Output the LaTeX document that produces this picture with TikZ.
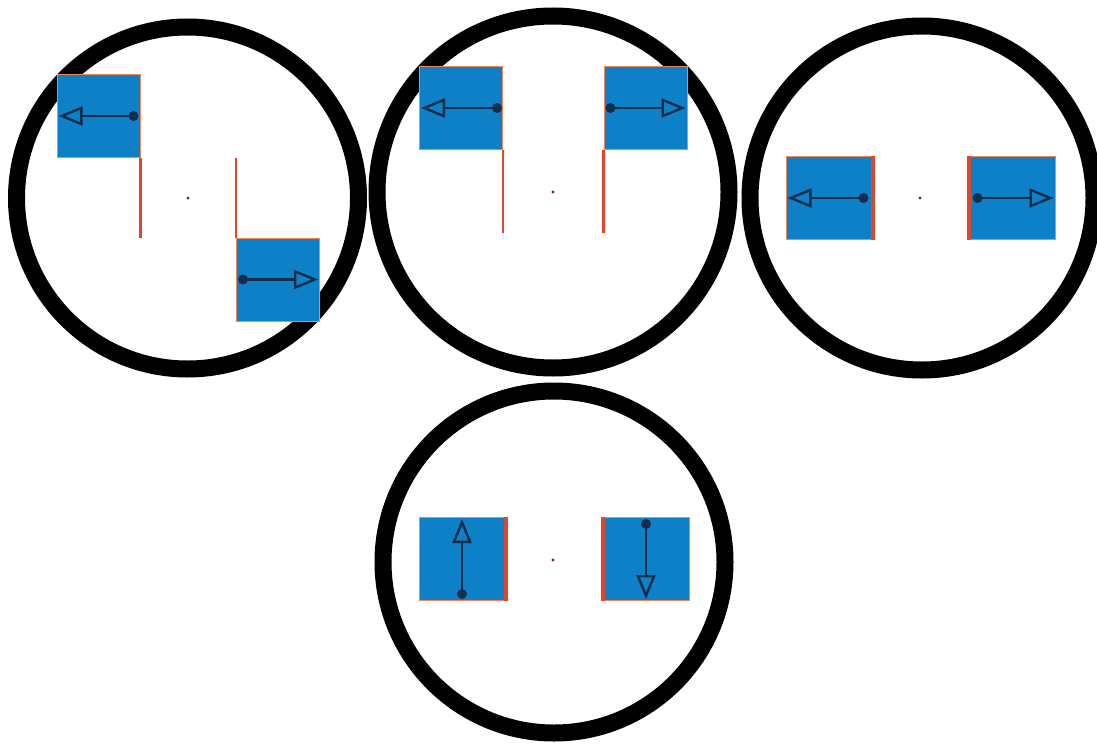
\documentclass[tikz,border=0pt]{standalone}
\usetikzlibrary{arrows.meta}
\definecolor{boxblue}{RGB}{14,128,200}
\definecolor{boxedge}{RGB}{240,135,85}
\definecolor{redline}{RGB}{222,70,45}
\definecolor{navy}{RGB}{20,45,75}
\definecolor{dotred}{RGB}{120,40,30}
\tikzset{
  ring/.style={draw=black, line width=17pt},
  box/.style={draw=boxedge, fill=boxblue, line width=1pt, inner sep=0pt, minimum width=83pt, minimum height=83pt, rectangle},
  wbox/.style={box, minimum width=86pt},
  rline/.style={draw=redline, line width=2.2pt},
  redge/.style={draw=redline, line width=4pt},
  arr/.style={draw=navy, line width=2.4pt, -{Triangle[open, length=24pt, width=19pt, line width=2.4pt]}},
  knob/.style={fill=navy},
  cdot/.style={fill=dotred}
}
\begin{document}
\begin{tikzpicture}[x=1pt, y=-1pt]
\useasboundingbox (0,0) rectangle (1097,744);
\fill[white] (0,0) rectangle (1097,744);

% ---------- circle 1 ----------
\draw[ring] (187.5,198) circle (171);
\node[box] (b1a) at (98.5,116) {};
\node[box] (b1b) at (278,279.5) {};
\draw[rline] (b1a.south east) -- (b1a.south east |- b1b.north west);
\draw[rline] (b1b.north west) -- (b1b.north west |- b1a.south east);
\coordinate (k1a) at ([xshift=-7pt]b1a.east);
\coordinate (k1b) at ([xshift=7pt]b1b.west);
\draw[arr] (k1a) -- ([xshift=2pt]b1a.west);
\fill[knob] (k1a) circle (5);
\draw[arr] (k1b) -- ([xshift=-2pt]b1b.east);
\fill[knob] (k1b) circle (5);
\coordinate (c1) at (188,198);
\fill[cdot] (c1) circle (1.6);

% ---------- circle 2 ----------
\draw[ring] (553,192) circle (176);
\node[box] (b2a) at (461,108) {};
\node[box] (b2b) at (645.5,108) {};
\coordinate (e2a) at ([yshift=-83pt]b2a.south east);
\coordinate (e2b) at ([yshift=-83pt]b2b.south west);
\draw[rline] (b2a.south east) -- (e2a);
\draw[rline] (b2b.south west) -- (e2b);
\coordinate (k2a) at ([xshift=-6pt]b2a.east);
\coordinate (k2b) at ([xshift=7pt]b2b.west);
\draw[arr] (k2a) -- ([xshift=2pt]b2a.west);
\fill[knob] (k2a) circle (5);
\draw[arr] (k2b) -- ([xshift=-2pt]b2b.east);
\fill[knob] (k2b) circle (5);
\coordinate (c2) at (553,192);
\fill[cdot] (c2) circle (1.6);

% ---------- circle 3 ----------
\draw[ring] (922,198) circle (172);
\node[wbox] (b3a) at (829,198) {};
\node[wbox] (b3b) at (1012,198) {};
\draw[redge] (b3a.north east) -- (b3a.south east);
\draw[redge] (b3b.north west) -- (b3b.south west);
\coordinate (k3a) at ([xshift=-9pt]b3a.east);
\coordinate (k3b) at ([xshift=9pt]b3b.west);
\draw[arr] (k3a) -- ([xshift=2pt]b3a.west);
\fill[knob] (k3a) circle (5);
\draw[arr] (k3b) -- ([xshift=-2pt]b3b.east);
\fill[knob] (k3b) circle (5);
\coordinate (c3) at (920,198);
\fill[cdot] (c3) circle (1.6);

% ---------- circle 4 ----------
\draw[ring] (554,562) circle (171);
\node[wbox] (b4a) at (462,559) {};
\node[wbox] (b4b) at (646,559) {};
\draw[redge] (b4a.north east) -- (b4a.south east);
\draw[redge] (b4b.north west) -- (b4b.south west);
\coordinate (k4a) at ([yshift=7pt]b4a.south);
\coordinate (k4b) at ([yshift=-7pt]b4b.north);
\draw[arr] (k4a) -- ([yshift=-2pt]b4a.north);
\fill[knob] (k4a) circle (5);
\draw[arr] (k4b) -- ([yshift=2pt]b4b.south);
\fill[knob] (k4b) circle (5);
\coordinate (c4) at (553,560);
\fill[cdot] (c4) circle (1.6);
\end{tikzpicture}
\end{document}
